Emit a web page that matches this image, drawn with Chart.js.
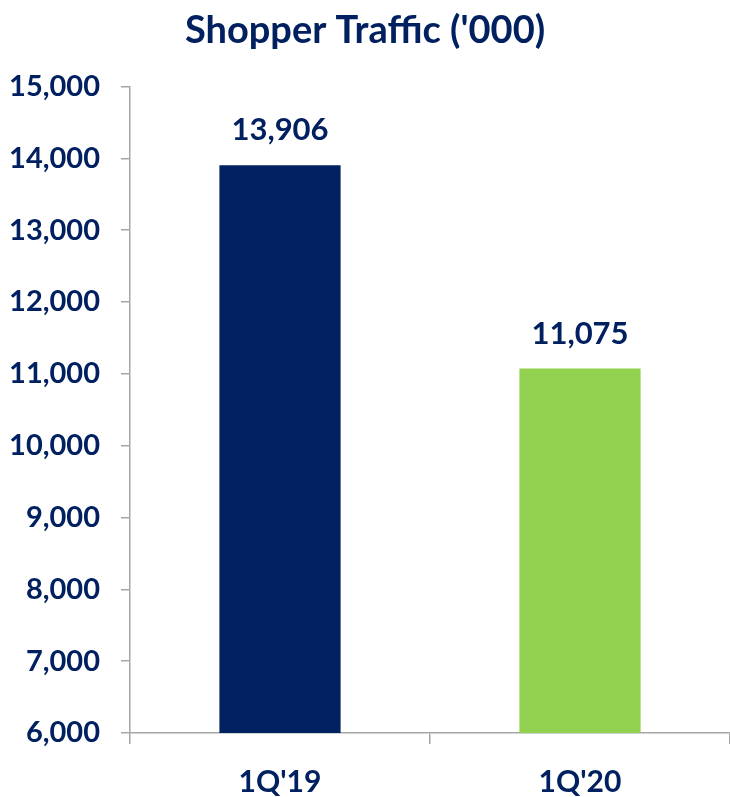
<!DOCTYPE html>
<html>
<head>
<meta charset="utf-8">
<script src="https://cdn.jsdelivr.net/npm/chart.js@4"></script>
<style>
  html, body { margin: 0; padding: 0; background: #ffffff; }
  #wrap { width: 730px; height: 797px; }
</style>
</head>
<body>
<div id="wrap"><canvas id="myChart" width="730" height="797"></canvas></div>
<script>
var categories = ["1Q'19", "1Q'20"];
var traffic = [13906, 11075];
var barColors = ['#002060', '#92D050'];
var yTicks = [6000, 7000, 8000, 9000, 10000, 11000, 12000, 13000, 14000, 15000];

var navy = '#002060';
var axisGray = '#a6a6a6';
var fontName = 'Lato, "Open Sans", sans-serif';

function fmt(v) {
    return v.toLocaleString('en-US');
}

// value labels above the bars
var barLabels = {
    id: 'barLabels',
    afterDatasetsDraw: function (chart) {
        var ctx = chart.ctx;
        var meta = chart.getDatasetMeta(0);
        ctx.save();
        ctx.fillStyle = navy;
        ctx.font = 'bold 31px ' + fontName;
        ctx.textAlign = 'center';
        ctx.textBaseline = 'middle';
        meta.data.forEach(function (bar, i) {
            ctx.fillText(fmt(traffic[i]), bar.x, bar.y - 35);
        });
        ctx.restore();
    }
};

window.onload = function () {
    var ctx = document.getElementById('myChart').getContext('2d');

    new Chart(ctx, {
        type: 'bar',
        data: {
            labels: categories,
            datasets: [{
                data: traffic,
                backgroundColor: barColors,
                borderWidth: 0,
                barPercentage: 0.8,
                categoryPercentage: 0.505
            }]
        },
        options: {
            responsive: false,
            animation: false,
            layout: {
                padding: { left: 0, right: 0, top: 0, bottom: 0 }
            },
            plugins: {
                legend: { display: false },
                tooltip: { enabled: false },
                title: {
                    display: true,
                    text: "Shopper Traffic ('000)",
                    color: navy,
                    font: { family: fontName, size: 38, weight: 'bold' },
                    padding: { top: 8, bottom: 33 }
                }
            },
            scales: {
                y: {
                    min: yTicks[0],
                    max: yTicks[yTicks.length - 1],
                    afterBuildTicks: function (axis) {
                        axis.ticks = yTicks.map(function (v) { return { value: v }; });
                    },
                    afterFit: function (axis) {
                        axis.width = 130;
                    },
                    ticks: {
                        color: navy,
                        padding: 21,
                        font: { family: fontName, size: 29, weight: 'bold' },
                        callback: function (value) { return fmt(value); }
                    },
                    grid: {
                        drawOnChartArea: false,
                        color: axisGray,
                        tickLength: 9,
                        lineWidth: 1.5
                    },
                    border: { color: axisGray, width: 1.5 }
                },
                x: {
                    afterFit: function (axis) {
                        axis.height = 64;
                    },
                    ticks: {
                        color: navy,
                        padding: 20,
                        font: { family: fontName, size: 30, weight: 'bold' }
                    },
                    grid: {
                        offset: true,
                        drawOnChartArea: false,
                        color: axisGray,
                        tickLength: 11,
                        lineWidth: 1.5
                    },
                    border: { color: axisGray, width: 1.5 }
                }
            }
        },
        plugins: [barLabels]
    });
};
</script>
</body>
</html>
